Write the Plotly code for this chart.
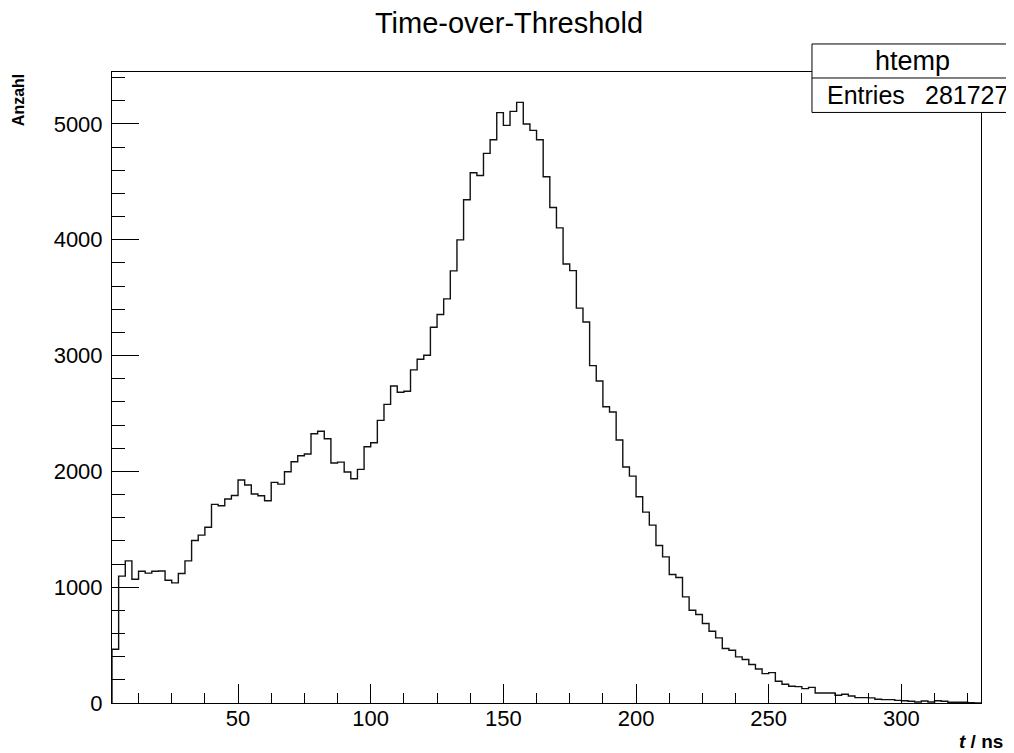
import plotly.graph_objects as go

# Histogram "htemp": Time-over-Threshold, 2.5 ns bins starting at 2.5 ns
bin_start = 2.5
bin_width = 2.5
counts = [
    464, 1095, 1227, 1069, 1138, 1121, 1138, 1140, 1060, 1037,
    1118, 1227, 1403, 1449, 1518, 1715, 1703, 1761, 1792, 1925,
    1882, 1804, 1789, 1746, 1905, 1890, 1997, 2083, 2135, 2150,
    2325, 2346, 2282, 2072, 2080, 1994, 1936, 2017, 2213, 2247,
    2440, 2578, 2737, 2683, 2691, 2876, 2968, 3002, 3244, 3354,
    3489, 3731, 3999, 4345, 4578, 4555, 4745, 4863, 5097, 4987,
    5108, 5186, 4999, 4944, 4863, 4543, 4278, 4102, 3790, 3733,
    3409, 3290, 2913, 2780, 2558, 2513, 2271, 2037, 1959, 1781,
    1648, 1536, 1360, 1262, 1110, 1084, 916, 801, 764, 686,
    620, 562, 470, 455, 398, 375, 332, 294, 254, 262,
    188, 162, 144, 141, 124, 135, 86, 86, 86, 67,
    75, 61, 46, 46, 44, 32, 29, 29, 23, 20,
    15, 9, 17, 9, 20, 15, 6, 6, 6, 3,
    0,
]
entries = "281727"
x_range = [2.5, 330]
y_range = [0, 5448]

edges = [bin_start + i * bin_width for i in range(len(counts) + 1)]
xs = [edges[0]] + edges
ys = [0] + counts + [counts[-1]]

FONT = "Liberation Sans, Arial, Helvetica, sans-serif"

fig = go.Figure()
fig.add_trace(go.Scatter(
    x=xs, y=ys, mode="lines", line=dict(shape="hv", color="#111111", width=1.4),
    hoverinfo="skip", showlegend=False,
))

# page body has an 8px margin, so the figure is 8px smaller than the window
fig.update_layout(
    width=1006, height=745,
    margin=dict(l=104, r=33, t=64, b=50, autoexpand=False),
    paper_bgcolor="white", plot_bgcolor="white",
    font=dict(family=FONT, color="black", size=22),
    title=dict(text="Time-over-Threshold", x=0.498, y=0.9805, xanchor="center",
               yanchor="middle", font=dict(family=FONT, size=29, color="black")),
    showlegend=False,
)

fig.update_xaxes(
    range=x_range, showgrid=False, zeroline=False,
    showline=True, linecolor="black", linewidth=1, mirror=True,
    ticks="inside", ticklen=19, tickcolor="black", tickwidth=1,
    tick0=0, dtick=50, tickfont=dict(size=22, family=FONT),
    ticklabelstandoff=-4,
    minor=dict(ticks="inside", ticklen=10, dtick=12.5, tick0=0, tickcolor="black", showgrid=False),
)
fig.update_yaxes(
    range=y_range, showgrid=False, zeroline=False,
    showline=True, linecolor="black", linewidth=1, mirror=True,
    ticks="inside", ticklen=27, tickcolor="black", tickwidth=1,
    tick0=0, dtick=1000, tickfont=dict(size=22, family=FONT),
    ticklabelstandoff=4,
    minor=dict(ticks="inside", ticklen=13, dtick=200, tick0=0, tickcolor="black", showgrid=False),
)

# axis titles (ROOT style, right/top aligned)
fig.add_annotation(text="<b>Anzahl</b>", textangle=-90, xref="paper", yref="paper",
                   x=-0.108, y=1.0, xanchor="center", yanchor="top", showarrow=False,
                   font=dict(family=FONT, size=16, color="black"))
fig.add_annotation(text="<b><i>t</i> / ns</b>", xref="paper", yref="paper",
                   x=1.028, y=-0.061, xanchor="right", yanchor="middle", showarrow=False,
                   font=dict(family=FONT, size=19, color="black"))

# stats box
bx0, bx1, by0, bym, by1 = 0.8055, 1.0372, 0.9359, 0.9905, 1.0444
fig.add_shape(type="rect", xref="paper", yref="paper", x0=bx0, x1=bx1, y0=by0, y1=by1,
              line=dict(color="black", width=1), fillcolor="white", layer="above")
fig.add_shape(type="line", xref="paper", yref="paper", x0=bx0, x1=bx1, y0=bym, y1=bym,
              line=dict(color="black", width=1), layer="above")
fig.add_annotation(text="htemp", xref="paper", yref="paper", x=(bx0 + bx1) / 2, y=(bym + by1) / 2,
                   xanchor="center", yanchor="middle", showarrow=False,
                   font=dict(family=FONT, size=27, color="black"))
fig.add_annotation(text="Entries", xref="paper", yref="paper", x=0.8208, y=(by0 + bym) / 2,
                   xanchor="left", yanchor="middle", showarrow=False,
                   font=dict(family=FONT, size=25, color="black"))
fig.add_annotation(text=entries, xref="paper", yref="paper", x=1.0337, y=(by0 + bym) / 2,
                   xanchor="right", yanchor="middle", showarrow=False,
                   font=dict(family=FONT, size=25, color="black"))

fig.write_html("out.html")
